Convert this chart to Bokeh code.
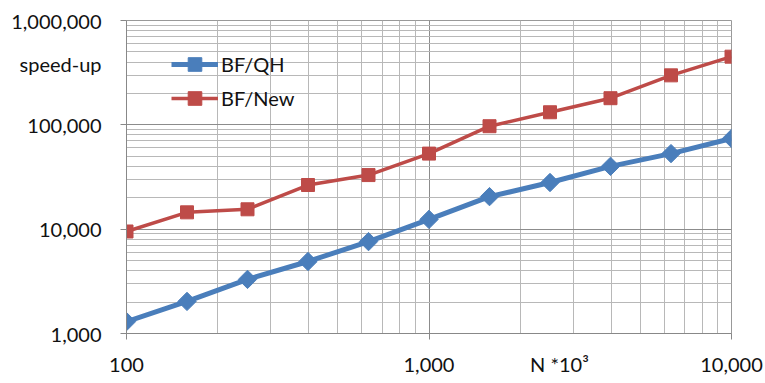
import math
from bokeh.plotting import figure
from bokeh.models import FixedTicker, NumeralTickFormatter, Legend, LegendItem
from bokeh.embed import file_html
from bokeh.resources import INLINE

n_values = [100, 158.5, 251.2, 398.1, 631.0, 1000, 1585, 2512, 3981, 6310, 10000]
bf_qh = [1300, 2030, 3300, 4900, 7600, 12400, 20500, 28000, 40000, 53000, 74000]
bf_new = [9500, 14500, 15500, 26500, 33000, 53000, 97000, 132000, 180000, 298000, 450000]

x_major = [100, 1000, 10000]
x_minor = [200, 300, 400, 500, 600, 700, 800, 900, 2000, 3000, 4000, 5000, 6000, 7000, 8000, 9000]
y_major = [1000, 10000, 100000, 1000000]
y_minor = [2000, 3000, 4000, 5000, 6000, 7000, 8000, 9000,
           20000, 30000, 40000, 50000, 60000, 70000, 80000, 90000,
           200000, 300000, 400000, 500000, 600000, 700000, 800000, 900000]

x_title = "N *10³"
y_title = "speed-up"
# where the axis titles sit, expressed along each axis (layout only)
X_TITLE_AT = 2700
Y_TITLE_AT = 380000

FONT = "Lato"
BLUE = "#4A7EBB"
RED = "#BE4B48"
TXT = "#111111"

p = figure(width=765, height=383, x_axis_type="log", y_axis_type="log",
           x_range=(100, 10000), y_range=(1000, 1000000),
           output_backend="svg", toolbar_location=None,
           min_border_left=126, min_border_right=34, min_border_top=20, min_border_bottom=50)
p.outline_line_color = "#999999"
p.background_fill_color = "white"
p.border_fill_color = "white"

# labels (incl. the axis titles) come from "major" ticks; the visible tick marks
# are drawn as "minor" ticks at the real decade values only
p.xaxis.ticker = FixedTicker(ticks=x_major + [X_TITLE_AT], minor_ticks=x_major)
p.yaxis.ticker = FixedTicker(ticks=y_major + [Y_TITLE_AT], minor_ticks=y_major)
p.xaxis.formatter = NumeralTickFormatter(format="0,0")
p.yaxis.formatter = NumeralTickFormatter(format="0,0")
p.xaxis.major_label_overrides = {X_TITLE_AT: x_title}
p.yaxis.major_label_overrides = {Y_TITLE_AT: y_title}
for ax in (p.xaxis, p.yaxis):
    ax.axis_line_color = "#888888"
    ax.major_tick_line_color = None
    ax.major_tick_out = 6
    ax.major_tick_in = 0
    ax.minor_tick_line_color = "#888888"
    ax.minor_tick_out = 6
    ax.minor_tick_in = 0
    ax.major_label_text_font = FONT
    ax.major_label_text_font_size = "20px"
    ax.major_label_text_color = TXT
p.yaxis.major_label_standoff = 19
p.xaxis.major_label_standoff = 12

p.xgrid.ticker = FixedTicker(ticks=x_major, minor_ticks=x_minor)
p.ygrid.ticker = FixedTicker(ticks=y_major, minor_ticks=y_minor)
p.xgrid.grid_line_color = "#8c8c8c"
p.ygrid.grid_line_color = "#8c8c8c"
p.xgrid.minor_grid_line_color = "#b8b8b8"
p.ygrid.minor_grid_line_color = "#b8b8b8"

r1 = p.line(n_values, bf_qh, line_color=BLUE, line_width=5)
m1 = p.scatter(n_values, bf_qh, marker="square", angle=math.pi / 4, size=13,
               fill_color=BLUE, line_color=BLUE)
r2 = p.line(n_values, bf_new, line_color=RED, line_width=3.5)
m2 = p.scatter(n_values, bf_new, marker="square", size=13, fill_color=RED, line_color=RED)

legend = Legend(items=[LegendItem(label="BF/QH", renderers=[r1, m1]),
                       LegendItem(label="BF/New", renderers=[r2, m2])],
                location=(45, 218), border_line_color=None, background_fill_alpha=0,
                glyph_width=47, glyph_height=34, label_height=20, spacing=0,
                padding=0, margin=0, label_standoff=3,
                label_text_font=FONT, label_text_font_size="20px", label_text_color=TXT)
p.add_layout(legend, "center")

open("out.html", "w").write(file_html(p, INLINE))
